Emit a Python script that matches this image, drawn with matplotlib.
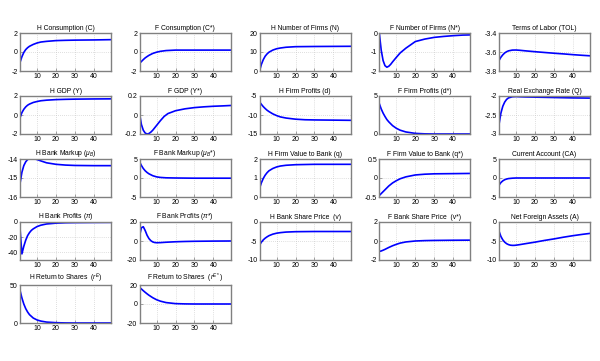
import matplotlib
matplotlib.use('Agg')
import matplotlib.pyplot as plt
import numpy as np

plt.rcParams['font.family'] = ['Liberation Sans', 'DejaVu Sans']
plt.rcParams['mathtext.fontset'] = 'custom'
plt.rcParams['mathtext.rm'] = 'Liberation Sans'
plt.rcParams['mathtext.it'] = 'Liberation Sans:italic'

# impulse responses (period, value)
t_c = [1, 2, 3, 4, 5, 6, 8, 10, 12, 15, 20, 25, 30, 40, 49]
h_cons = [-1.1, -0.5, -0.05, 0.25, 0.45, 0.6, 0.8, 0.95, 1.05, 1.12, 1.2, 1.23, 1.25, 1.27, 1.3]

t_cf = [1, 2, 3, 4, 5, 6, 8, 10, 12, 15, 20, 25, 30, 49]
f_cons = [-1.2, -1.0, -0.8, -0.62, -0.48, -0.35, -0.15, -0.02, 0.07, 0.15, 0.2, 0.2, 0.2, 0.2]

t_n = [1, 2, 3, 4, 5, 6, 8, 10, 12, 15, 20, 30, 49]
h_firms = [0, 3.5, 6, 7.8, 9, 9.9, 11, 11.7, 12.1, 12.5, 12.8, 12.9, 13]

t_nf = [1, 2, 3, 4, 5, 6, 7, 8, 10, 12, 15, 20, 25, 30, 35, 40, 45, 49]
f_firms = [0, -0.9, -1.45, -1.72, -1.8, -1.75, -1.65, -1.52, -1.28, -1.05, -0.8,
           -0.45, -0.32, -0.23, -0.18, -0.14, -0.11, -0.1]

t_tol = [1, 2, 3, 4, 5, 6, 8, 10, 12, 15, 20, 25, 30, 35, 40, 45, 49]
tol = [-3.69, -3.655, -3.63, -3.61, -3.597, -3.588, -3.58, -3.579, -3.582, -3.588,
       -3.597, -3.605, -3.613, -3.62, -3.628, -3.635, -3.64]

t_y = [1, 2, 3, 4, 5, 6, 8, 10, 12, 15, 20, 25, 30, 40, 49]
h_gdp = [-0.3, 0.25, 0.6, 0.85, 1.03, 1.15, 1.32, 1.42, 1.5, 1.56, 1.62, 1.65, 1.67, 1.69, 1.7]

t_yf = [1, 2, 3, 4, 5, 6, 7, 8, 10, 12, 14, 16, 20, 25, 30, 35, 40, 45, 49]
f_gdp = [0.02, -0.1, -0.16, -0.19, -0.2, -0.195, -0.18, -0.16, -0.11, -0.06, -0.015,
         0.015, 0.045, 0.065, 0.078, 0.086, 0.092, 0.096, 0.1]

t_d = [1, 2, 3, 4, 5, 6, 8, 10, 12, 15, 20, 25, 30, 40, 49]
h_profits = [-6.5, -7.2, -7.8, -8.3, -8.75, -9.1, -9.7, -10.15, -10.5, -10.8, -11.1,
             -11.25, -11.3, -11.35, -11.4]

t_df = [1, 2, 3, 4, 5, 6, 8, 10, 12, 15, 20, 25, 30, 49]
f_profits = [4.0, 3.3, 2.75, 2.3, 1.9, 1.6, 1.1, 0.75, 0.5, 0.27, 0.08, 0.02, 0.0, 0.0]

t_q = [1, 2, 3, 4, 5, 6, 8, 10, 12, 15, 20, 30, 40, 49]
rer = [-2.75, -2.45, -2.27, -2.16, -2.09, -2.05, -2.02, -2.015, -2.02, -2.025, -2.03,
       -2.04, -2.05, -2.055]

t_mu = [1, 2, 3, 4, 5, 6, 7, 8, 10, 12, 15, 20, 25, 30, 40, 49]
h_markup = [-15.3, -14.7, -14.35, -14.15, -14.03, -13.98, -13.96, -13.97, -14.03, -14.1,
            -14.2, -14.28, -14.32, -14.34, -14.35, -14.35]

t_muf = [1, 2, 3, 4, 5, 6, 8, 10, 12, 15, 20, 30, 49]
f_markup = [4.3, 3.3, 2.5, 1.9, 1.45, 1.1, 0.6, 0.3, 0.15, 0.05, 0.0, -0.05, -0.05]

t_fv = [1, 2, 3, 4, 5, 6, 8, 10, 12, 15, 20, 30, 49]
h_value = [0.45, 0.75, 0.98, 1.15, 1.28, 1.38, 1.5, 1.58, 1.63, 1.67, 1.7, 1.72, 1.72]

t_fvf = [1, 2, 3, 4, 5, 6, 8, 10, 12, 15, 20, 25, 30, 40, 49]
f_value = [-0.46, -0.41, -0.36, -0.31, -0.26, -0.21, -0.13, -0.07, -0.02, 0.03, 0.08,
           0.1, 0.11, 0.115, 0.12]

t_ca = [1, 2, 3, 4, 5, 6, 8, 10, 20, 49]
cur_acc = [-1.9, -1.2, -0.75, -0.45, -0.27, -0.15, -0.05, 0.0, 0.0, 0.0]

t_pi = [1, 2, 3, 4, 5, 6, 7, 8, 10, 12, 15, 20, 25, 30, 40, 49]
h_bank_profits = [-8, -42, -32, -24, -18, -14, -11, -9, -6, -4.2, -2.6, -1.5, -1, -0.8,
                  -0.6, -0.5]

t_pif = [1, 2, 3, 4, 5, 6, 7, 8, 9, 10, 12, 15, 20, 25, 30, 40, 49]
f_bank_profits = [5, 14, 15, 11, 6, 2.5, 0.3, -1, -1.6, -1.8, -1.7, -1.3, -0.8, -0.5,
                  -0.3, -0.1, 0]

t_v = [1, 2, 3, 4, 5, 6, 8, 10, 12, 15, 20, 30, 49]
h_share = [-6.1, -5.3, -4.7, -4.25, -3.9, -3.6, -3.2, -2.95, -2.8, -2.65, -2.55, -2.5, -2.5]

t_vf = [1, 2, 3, 4, 5, 6, 8, 10, 12, 15, 20, 25, 30, 40, 49]
f_share = [-1.1, -1.05, -0.97, -0.88, -0.78, -0.68, -0.5, -0.35, -0.22, -0.1, 0.0, 0.04,
           0.06, 0.08, 0.09]

t_a = [1, 2, 3, 4, 5, 6, 7, 8, 9, 10, 12, 15, 20, 25, 30, 35, 40, 45, 49]
nfa = [-2.4, -3.8, -4.7, -5.3, -5.7, -5.95, -6.1, -6.15, -6.15, -6.1, -5.95, -5.7, -5.3,
       -4.85, -4.45, -4.0, -3.6, -3.25, -3.0]

t_r = [1, 2, 3, 4, 5, 6, 8, 10, 12, 15, 20, 25, 30, 49]
h_return = [43, 33, 25, 19, 14.5, 11, 6.5, 4, 2.5, 1.2, 0.4, 0.1, 0, 0]
f_return = [17.5, 15.8, 14, 12.3, 10.7, 9.2, 6.6, 4.5, 3, 1.5, 0.4, 0.1, 0, 0]

panels = [
    ('H Consumption (C)', t_c, h_cons, (-2, 2), [-2, 0, 2]),
    ('F Consumption (C*)', t_cf, f_cons, (-2, 2), [-2, 0, 2]),
    ('H Number of Firms (N)', t_n, h_firms, (0, 20), [0, 10, 20]),
    ('F Number of Firms (N*)', t_nf, f_firms, (-2, 0), [-2, -1, 0]),
    ('Terms of Labor (TOL)', t_tol, tol, (-3.8, -3.4), [-3.8, -3.6, -3.4]),
    ('H GDP (Y)', t_y, h_gdp, (-2, 2), [-2, 0, 2]),
    ('F GDP (Y*)', t_yf, f_gdp, (-0.2, 0.2), [-0.2, 0, 0.2]),
    ('H Firm Profits (d)', t_d, h_profits, (-15, -5), [-15, -10, -5]),
    ('F Firm Profits (d*)', t_df, f_profits, (0, 5), [0, 5]),
    ('Real Exchange Rate (Q)', t_q, rer, (-3, -2), [-3, -2.5, -2]),
    (r'H Bank Markup ($\mu_B$)', t_mu, h_markup, (-16, -14), [-16, -15, -14]),
    (r'F Bank Markup ($\mu_B$*)', t_muf, f_markup, (-5, 5), [-5, 0, 5]),
    ('H Firm Value to Bank (q)', t_fv, h_value, (0, 2), [0, 1, 2]),
    ('F Firm Value to Bank (q*)', t_fvf, f_value, (-0.5, 0.5), [-0.5, 0, 0.5]),
    ('Current Account (CA)', t_ca, cur_acc, (-5, 5), [-5, 0, 5]),
    (r'H Bank Profits ($\pi$)', t_pi, h_bank_profits, (-50, 0), [-40, -20, 0]),
    (r'F Bank Profits ($\pi$*)', t_pif, f_bank_profits, (-20, 20), [-20, 0, 20]),
    ('H Bank Share Price  (v)', t_v, h_share, (-10, 0), [-10, -5, 0]),
    ('F Bank Share Price  (v*)', t_vf, f_share, (-2, 2), [-2, 0, 2]),
    ('Net Foreign Assets (A)', t_a, nfa, (-10, 0), [-10, -5, 0]),
    (r'H Return to Shares  ($r^E$)', t_r, h_return, (0, 50), [0, 50]),
    (r'F Return to Shares  ($r^{E*}$)', t_r, f_return, (-20, 20), [-20, 0, 20]),
]

W, H = 600, 361
fig = plt.figure(figsize=(6, 3.61), dpi=100)

col_left = [20, 139.5, 259.5, 379.3, 499]
row_top = [33, 96, 159, 222, 285]
ax_w, ax_h = 91, 38
frame = '#808080'

for i, (title, t, vals, ylim, yticks) in enumerate(panels):
    r, c = divmod(i, 5)
    ax = fig.add_axes([col_left[c] / W, 1 - (row_top[r] + ax_h) / H, ax_w / W, ax_h / H])
    ax.plot(t, vals, color='#0000ff', lw=1.2)
    ax.set_xlim(1, 49)
    ax.set_ylim(*ylim)
    ax.set_xticks([10, 20, 30, 40])
    ax.set_yticks(yticks)
    ax.set_yticklabels([f'{v:g}' for v in yticks])
    ax.grid(True, color='#c0c0c0', linestyle=(0, (1, 2)), lw=0.5)
    ax.tick_params(direction='in', length=2, width=0.5, labelsize=5, pad=1.5,
                   colors=frame, labelcolor='black')
    for s in ax.spines.values():
        s.set_color(frame)
        s.set_linewidth(1.0)
    ax.set_title(title, fontsize=4.9, pad=2.5)

fig.savefig('out.png', dpi=100)
